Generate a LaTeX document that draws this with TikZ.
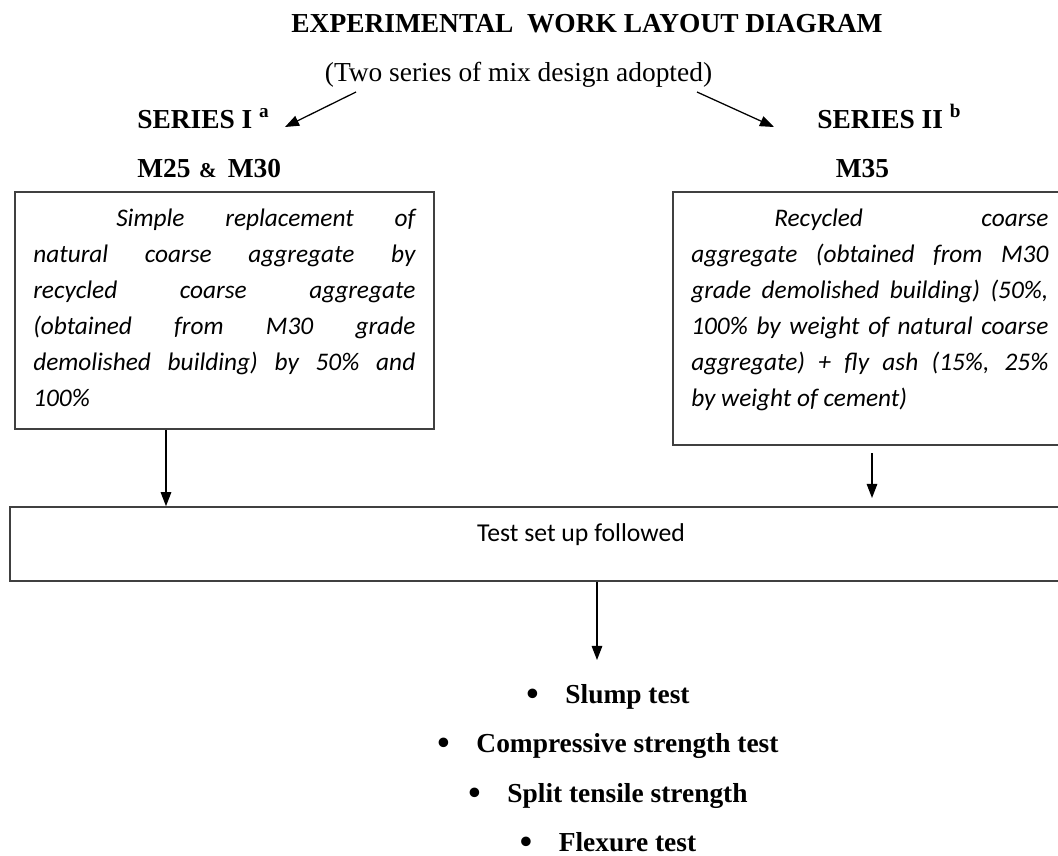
\documentclass[tikz,border=0pt]{standalone}
\usepackage{fontspec}
\setmainfont{Liberation Serif}
\newfontfamily\calibrifont{Carlito}
\usetikzlibrary{arrows.meta,calc,positioning}

\begin{document}
\begin{tikzpicture}[x=0.025cm, y=-0.025cm, >={Triangle[length=10pt,width=7.5pt]},
	every node/.style={inner sep=0pt, font=\fontsize{19.5}{23}\selectfont},
	heading/.style={font=\fontsize{19.5}{23}\selectfont\bfseries},
	frame/.style={draw=black!75, line width=1.1pt},
	boxtext/.style={align=justify, font=\calibrifont\itshape\fontsize{18}{25.5}\selectfont},
	arr/.style={->, line width=0.9pt}]
	\useasboundingbox (0,0) rectangle (1058,855);
	% Points for the arrows
	\path
	(356,92) coordinate (fromL)
	(285,127) coordinate (tipSL)
	(697,92) coordinate (fromR)
	(774,127) coordinate (tipSR)
	(166,505) coordinate (tipL)
	(872,453) coordinate (startR)
	(872,498) coordinate (tipR)
	(597,660) coordinate (tipT)
	;
	% Headings
	\node[heading, anchor=base] (title) at (587,32) {EXPERIMENTAL\ \ WORK LAYOUT DIAGRAM};
	\node[anchor=base] (intro) at (518.5,81) {(Two series of mix design adopted)};
	\node[heading, anchor=base west] (series1) at (137,128) {SERIES I \textsuperscript{a}};
	\node[heading, anchor=base west] (series2) at (817,128) {SERIES II \textsuperscript{b}};
	\node[heading, anchor=base west] (grade1) at (137,177) {M25\hspace{6pt}{\fontsize{15}{18}\selectfont\&}\hspace{8pt}M30};
	\node[heading, anchor=base] (grade2) at (862.5,177) {M35};
	% Boxes of the two series
	\node[frame, minimum width=10.475cm, minimum height=5.925cm] (boxL) at (224.5,310.5) {};
	\node[frame, minimum width=9.8cm, minimum height=6.325cm] (boxR) at (869,318.5) {};
	\node[boxtext, text width=9.55cm, anchor=north west] (txtL) at (33,209) {\hspace*{2.075cm}Simple replacement of\linebreak
		natural coarse aggregate by\linebreak
		recycled coarse aggregate\linebreak
		(obtained from M30 grade\linebreak
		demolished building) by 50\% and\linebreak
		100\%};
	\node[boxtext, text width=8.925cm, anchor=north west] (txtR) at (691,209) {\hspace*{2.075cm}Recycled coarse\linebreak
		aggregate (obtained from M30\linebreak
		grade demolished building) (50\%,\linebreak
		100\% by weight of natural coarse\linebreak
		aggregate) + fly ash (15\%, 25\%\linebreak
		by weight of cement)};
	% Test box
	\node[frame, minimum width=26.375cm, minimum height=1.85cm] (testbox) at (537.5,544) {};
	\node[font=\calibrifont\fontsize{18.3}{22}\selectfont, anchor=base] (testlbl) at (581,541) {Test set up followed};
	% List of tests
	\foreach \i/\y/\lab in {1/703/Slump test, 2/752.5/Compressive strength test, 3/802/Split tensile strength, 4/851.5/Flexure test} {
	\node[heading, anchor=base] (test\i) at (608,\y) {\raisebox{-1.5pt}{\fontsize{25}{25}\selectfont\textbullet}\hspace{19pt}\lab};
	}
	% Arrows
	\draw[arr] (fromL) -- (tipSL);
	\draw[arr] (fromR) -- (tipSR);
	\draw[arr] (boxL.south -| tipL) -- (testbox.north -| tipL);
	\draw[arr] (startR) -- (tipR);
	\draw[arr] (testbox.south -| tipT) -- (tipT);
\end{tikzpicture}
\end{document}
